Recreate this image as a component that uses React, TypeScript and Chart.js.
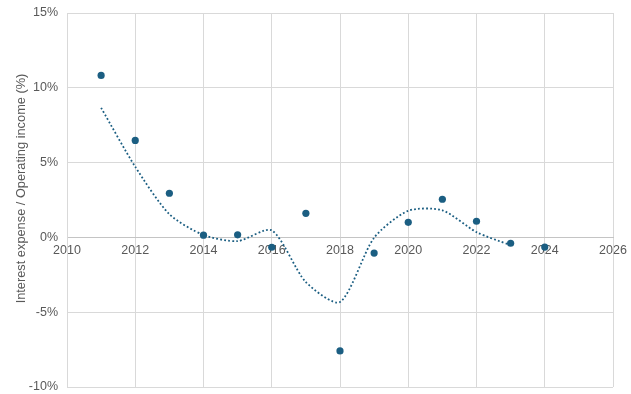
import React, { useEffect, useRef } from "react";
import { Chart, registerables } from "chart.js";

Chart.register(...registerables);

const years = [2011, 2012, 2013, 2014, 2015, 2016, 2017, 2018, 2019, 2020, 2021, 2022, 2023, 2024];
const ratioValues = [10.83, 6.48, 2.95, 0.15, 0.17, -0.66, 1.61, -7.59, -1.05, 1.01, 2.55, 1.08, -0.39, -0.65];
const trendYears = [2011, 2012, 2013, 2014, 2015, 2016, 2017, 2018, 2019, 2020, 2021, 2022, 2023];
const trendValues = [8.66, 4.72, 1.55, 0.16, -0.25, 0.47, -2.99, -4.32, -0.02, 1.78, 1.81, 0.35, -0.52];
const xTicks = { min: 2010, max: 2026, step: 2 };
const yTicks = { min: -10, max: 15, step: 5 };
const yTitle = "Interest expense / Operating income (%)";

const FONT = "'Liberation Sans', Arial, Helvetica, sans-serif";
const TEXT = "#595959";
const GRID = "#d9d9d9";
const POINT = "#1b5e82";

export default function App() {
  const ref = useRef<HTMLCanvasElement | null>(null);
  useEffect(() => {
    if (!ref.current) return;
    const titlePlugin = {
      id: "yTitle",
      afterDraw(chart: any) {
        const { ctx } = chart;
        ctx.save();
        ctx.translate(21, 188.5);
        ctx.rotate(-Math.PI / 2);
        ctx.font = `12.8px ${FONT}`;
        ctx.fillStyle = TEXT;
        ctx.textAlign = "center";
        ctx.textBaseline = "middle";
        ctx.fillText(yTitle, 0, 0);
        ctx.restore();
      },
    };
    const chart = new Chart(ref.current, {
      type: "scatter",
      data: {
        datasets: [
          {
            label: "Ratio",
            data: years.map((x, i) => ({ x, y: ratioValues[i] })),
            backgroundColor: POINT,
            borderColor: POINT,
            pointRadius: 3.6,
            pointBorderWidth: 0,
            showLine: false,
            order: 0,
          },
          {
            label: "Trend",
            data: trendYears.map((x, i) => ({ x, y: trendValues[i] })),
            borderColor: POINT,
            backgroundColor: POINT,
            borderWidth: 1.8,
            borderDash: [1.8, 2.2],
            pointRadius: 0,
            showLine: true,
            tension: 0.25,
            fill: false,
            order: 1,
          } as any,
        ],
      },
      options: {
        animation: false,
        responsive: false,
        maintainAspectRatio: false,
        layout: { padding: { left: 0, top: 13, right: 18, bottom: 7 } },
        plugins: { legend: { display: false }, tooltip: { enabled: false } },
        scales: {
          x: {
            type: "linear",
            position: { y: 0 } as any,
            min: xTicks.min,
            max: xTicks.max,
            ticks: {
              stepSize: xTicks.step,
              padding: 6,
              color: TEXT,
              font: { family: FONT, size: 12.5 },
              callback: (v: any) => String(v),
              maxRotation: 0,
            },
            grid: { color: GRID, drawTicks: false },
            border: { color: "#c4c4c4", width: 1 },
            afterFit: (s: any) => {
              s.paddingLeft = 0;
              s.paddingRight = 0;
            },
          },
          y: {
            type: "linear",
            min: yTicks.min,
            max: yTicks.max,
            ticks: {
              stepSize: yTicks.step,
              padding: 9,
              color: TEXT,
              font: { family: FONT, size: 12.5 },
              callback: (v: any) => `${v}%`,
            },
            grid: { color: GRID, drawTicks: false },
            border: { color: GRID, width: 1 },
            afterFit: (s: any) => {
              s.width = 67;
              s.paddingTop = 0;
              s.paddingBottom = 0;
            },
          },
        },
      },
      plugins: [titlePlugin],
    });
    return () => chart.destroy();
  }, []);
  return (
    <div style={{ position: "fixed", left: 0, top: 0, width: 631, height: 394, background: "#fff" }}>
      <canvas ref={ref} width={631} height={394} style={{ width: 631, height: 394 }} />
    </div>
  );
}
